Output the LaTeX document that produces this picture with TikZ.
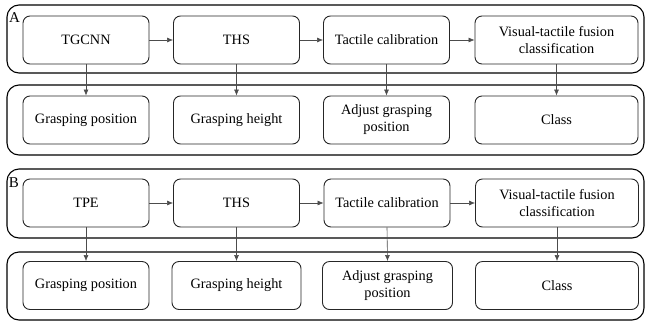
\documentclass[tikz,border=0pt]{standalone}
\usepackage{fontspec}
\setmainfont{Liberation Serif}
\newfontfamily\tnrfont{Liberation Serif}
\usetikzlibrary{arrows.meta}
\begin{document}
\begin{tikzpicture}[x=1pt,y=-1pt,
  panel/.style={draw=black, line width=1.1pt, rounded corners=12pt, minimum width=637pt, inner sep=0pt},
  stage/.style={draw=black!85, line width=0.9pt, rounded corners=7pt, align=center,
    font=\tnrfont\fontsize{14.3}{17}\selectfont, inner sep=0pt, minimum height=48pt},
  wA/.style={minimum width=126pt},
  wB/.style={minimum width=163pt},
  tag/.style={font=\tnrfont\fontsize{15}{17}\selectfont, inner sep=0pt},
  flow/.style={draw=black!70, line width=0.6pt, -{Latex[length=6pt,width=5pt]}}
]
\useasboundingbox (0,0) rectangle (645,322);

% panels
\node[panel, minimum height=68pt] (pA1) at (325.5,39) {};
\node[panel, minimum height=70pt] (pA2) at (325.5,120) {};
\node[panel, minimum height=69pt] (pB1) at (325.5,203.5) {};
\node[panel, minimum height=68pt] (pB2) at (325.5,286) {};

\node[tag] (lA) at (14.5,17.5) {A};
\node[tag] (lB) at (14,183) {B};

% A row 1
\node[stage, wA] (a1) at (86,40) {TGCNN};
\node[stage, wA] (a2) at (236.5,40) {THS};
\node[stage, wA] (a3) at (386.5,40) {Tactile calibration};
\node[stage, wB] (a4) at (556.5,40) {Visual-tactile fusion\\classification};
% A row 2
\node[stage, wA] (a5) at (86,120) {Grasping position};
\node[stage, wA] (a6) at (236.5,120) {Grasping height};
\node[stage, wA] (a7) at (386.5,120) {Adjust grasping\\position};
\node[stage, wB] (a8) at (556.5,120) {Class};

% B row 1
\node[stage, wA] (b1) at (86,203) {TPE};
\node[stage, wA] (b2) at (236.5,203) {THS};
\node[stage, wA] (b3) at (387,203) {Tactile calibration};
\node[stage, wB] (b4) at (557,203) {Visual-tactile fusion\\classification};
% B row 2
\node[stage, wA] (b5) at (86,285.5) {Grasping position};
\node[stage, minimum width=129pt] (b6) at (236.5,285.5) {Grasping height};
\node[stage, minimum width=130pt] (b7) at (387.5,285.5) {Adjust grasping\\position};
\node[stage, wB] (b8) at (557,285.5) {Class};

% connectors A
\draw[flow] (a1) -- (a2);
\draw[flow] (a2) -- (a3);
\draw[flow] (a3) -- (a4);
\draw[flow] (a1.south) -- (a5.north);
\draw[flow] (a2.south) -- (a6.north);
\draw[flow] (a3.south) -- (a7.north);
\draw[flow] (a4.south) -- (a8.north);

% connectors B
\draw[flow] (b1) -- (b2);
\draw[flow] (b2) -- (b3);
\draw[flow] (b3) -- (b4);
\draw[flow] (b1.south) -- (b5.north);
\draw[flow] (b2.south) -- (b6.north);
\draw[flow] (b3.south) -- (b7.north);
\draw[flow] (b4.south) -- (b8.north);
\end{tikzpicture}
\end{document}
